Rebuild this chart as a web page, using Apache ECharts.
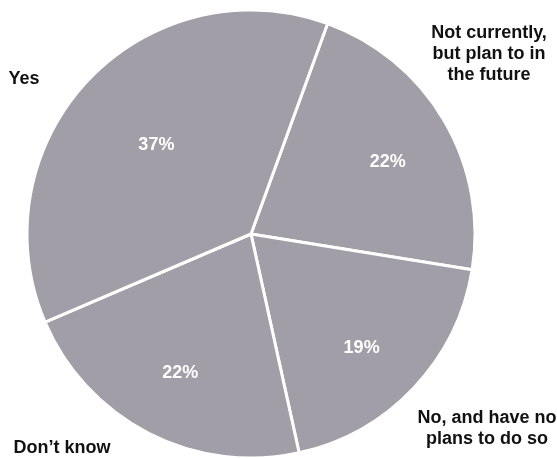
<!DOCTYPE html>
<html>
<head>
<meta charset="utf-8">
<script src="https://cdn.jsdelivr.net/npm/echarts@6/dist/echarts.min.js"></script>
<style>
  html, body { margin: 0; padding: 0; background: #fff; }
  #chart { width: 557px; height: 458px; }
</style>
</head>
<body>
<div id="chart"></div>
<script>
// Survey answers, listed clockwise from the top-right boundary
const categories = [
  'Not currently,\nbut plan to in\nthe future',
  'No, and have no\nplans to do so',
  'Don\u2019t know',
  'Yes'
];
const shares = [22, 19, 22, 37];

// Where each category name sits (corner captions), keyed by slice index
const namePlacement = [
  { x: 489, y: 54 },
  { x: 487, y: 429 },
  { x: 62, y: 448 },
  { x: 24, y: 79 }
];
// Small nudges for the percentage labels
const pctNudge = [
  [3, 6],
  [-2, 8],
  [0, 1],
  [18, 18]
];

const FONT = '"Liberation Sans", Arial, sans-serif';
const sliceColor = '#a19ea7';
const CENTER = [251, 234];

const chart = echarts.init(document.getElementById('chart'), null, { renderer: 'canvas' });

const pieData = categories.map((name, i) => ({ name: name, value: shares[i] }));

chart.setOption({
  animation: false,
  backgroundColor: '#ffffff',
  series: [
    {
      // the pie itself, with category captions in the corners
      type: 'pie',
      center: CENTER,
      radius: [0, 224],
      startAngle: 70,
      clockwise: true,
      avoidLabelOverlap: false,
      emphasis: { disabled: true },
      itemStyle: { color: sliceColor, borderColor: '#ffffff', borderWidth: 3 },
      label: {
        show: true,
        position: 'outside',
        formatter: '{b}',
        color: '#111111',
        fontFamily: FONT,
        fontWeight: 'bold',
        fontSize: 18,
        lineHeight: 21,
        align: 'center'
      },
      labelLine: { show: false },
      labelLayout: function (p) {
        const pos = namePlacement[p.dataIndex];
        return { x: pos.x, y: pos.y, align: 'center', verticalAlign: 'middle' };
      },
      data: pieData
    },
    {
      // transparent copy carrying the percentage labels inside the slices
      type: 'pie',
      center: CENTER,
      radius: [0, 304],
      startAngle: 70,
      clockwise: true,
      silent: true,
      z: 3,
      emphasis: { disabled: true },
      itemStyle: { color: 'rgba(0,0,0,0)', borderWidth: 0 },
      label: {
        show: true,
        position: 'inside',
        formatter: '{c}%',
        color: '#ffffff',
        fontFamily: FONT,
        fontWeight: 'bold',
        fontSize: 18
      },
      labelLine: { show: false },
      labelLayout: function (p) {
        const n = pctNudge[p.dataIndex];
        return { dx: n[0], dy: n[1] };
      },
      data: pieData
    }
  ]
});
</script>
</body>
</html>
